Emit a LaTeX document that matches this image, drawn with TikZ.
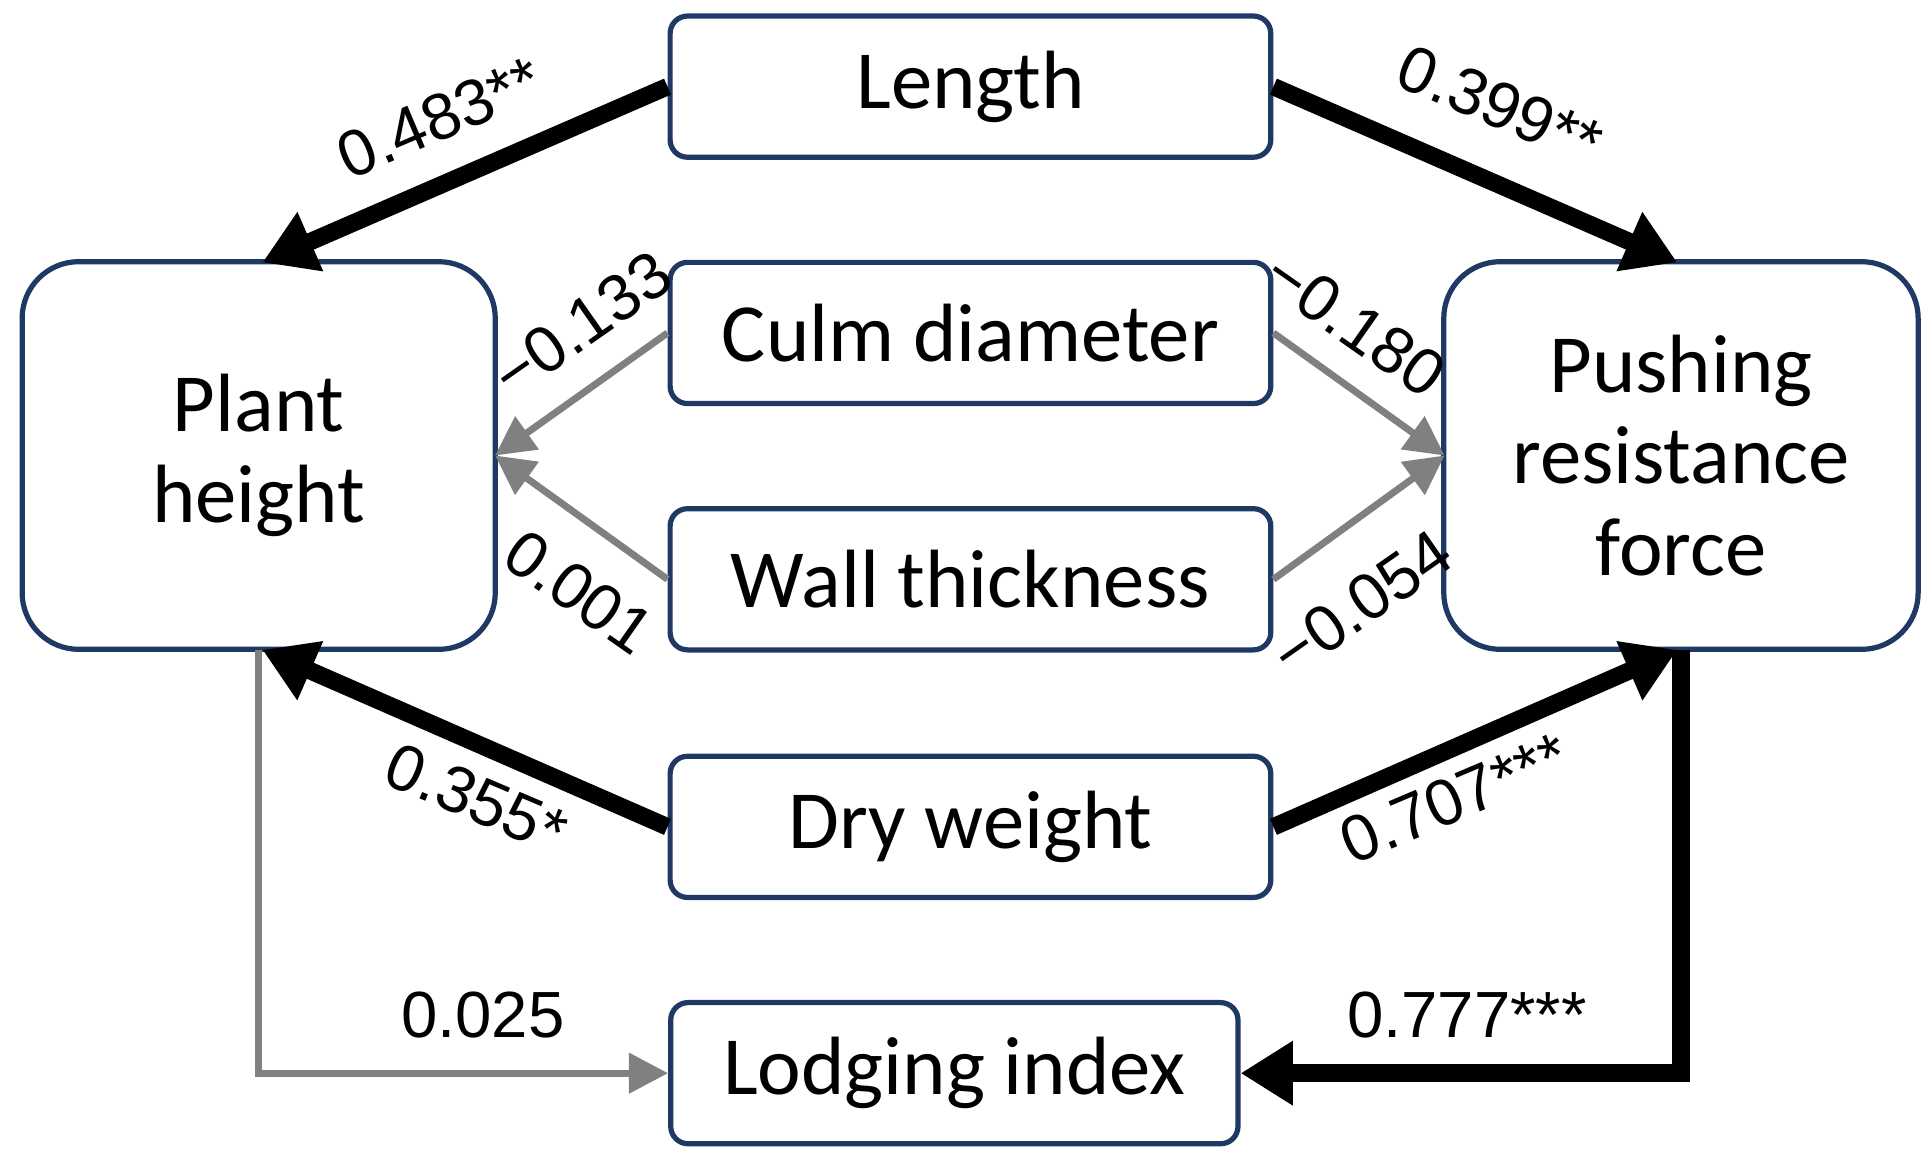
\documentclass[tikz,border=0pt]{standalone}
\usepackage{fontspec}
\setmainfont{Liberation Sans}
\newfontfamily\boxfont{Carlito}
\usetikzlibrary{arrows.meta}
\definecolor{navy}{HTML}{1F3864}
\begin{document}
\begin{tikzpicture}[x=0.01cm,y=-0.01cm,
 box/.style={draw=navy,line width=1.2pt,rounded corners=4pt,font=\boxfont\fontsize{19}{22}\selectfont,inner sep=0pt},
 big/.style={box,rounded corners=13pt,align=center,text width=3.6cm},
 strong/.style={line width=4pt,-{Triangle[length=12pt,width=14pt]}},
 weak/.style={line width=1.6pt,gray,-{Triangle[length=9pt,width=9pt]}},
 lab/.style={font=\fontsize{15}{17}\selectfont}]
\useasboundingbox (0,0) rectangle (1560,928);
\node[box,minimum width=4.85cm,minimum height=1.14cm] (len) at (784,70) {Length};
\node[box,minimum width=4.85cm,minimum height=1.14cm] (culm) at (784,269) {Culm diameter};
\node[box,minimum width=4.85cm,minimum height=1.14cm] (wall) at (784,468) {Wall thickness};
\node[box,minimum width=4.85cm,minimum height=1.14cm] (dry) at (784,668) {Dry weight};
\node[box,minimum width=4.58cm,minimum height=1.14cm] (lod) at (771,867) {Lodging index};
\node[big,minimum width=3.82cm,minimum height=3.13cm] (ph) at (209,368) {Plant\\[-1pt]height};
\node[big,minimum width=3.83cm,minimum height=3.13cm] (pr) at (1358,368) {Pushing\\[-1pt]resistance\\[-1pt]force};
\coordinate (phT) at (212,212); \coordinate (prT) at (1355,212);
\coordinate (phE) at (400,368); \coordinate (prW) at (1167,368);
\coordinate (phB) at (212,525); \coordinate (prB) at (1355,525);
\draw[strong] (len.west) -- (phT);
\draw[strong] (len.east) -- (prT);
\draw[weak] (culm.west) -- (phE);
\draw[weak] (wall.west) -- (phE);
\draw[weak] (culm.east) -- (prW);
\draw[weak] (wall.east) -- (prW);
\draw[strong] (dry.west) -- (phB);
\draw[strong] (dry.east) -- (prB);
\draw[weak] (209,525) |- (lod.west);
\draw[strong] (1358,525) |- (lod.east);
\node[lab,rotate=23] at (355,95) {0.483**};
\node[lab,rotate=-23] at (1212,85) {0.399**};
\node[lab,rotate=35] at (470,262) {−0.133};
\node[lab,rotate=-35] at (1095,262) {−0.180};
\node[lab,rotate=-35] at (468,478) {0.001};
\node[lab,rotate=35] at (1100,487) {−0.054};
\node[lab,rotate=-23] at (385,645) {0.355*};
\node[lab,rotate=23] at (1175,645) {0.707***};
\node[lab] at (390,820) {0.025};
\node[lab] at (1185,820) {0.777***};
\end{tikzpicture}
\end{document}
